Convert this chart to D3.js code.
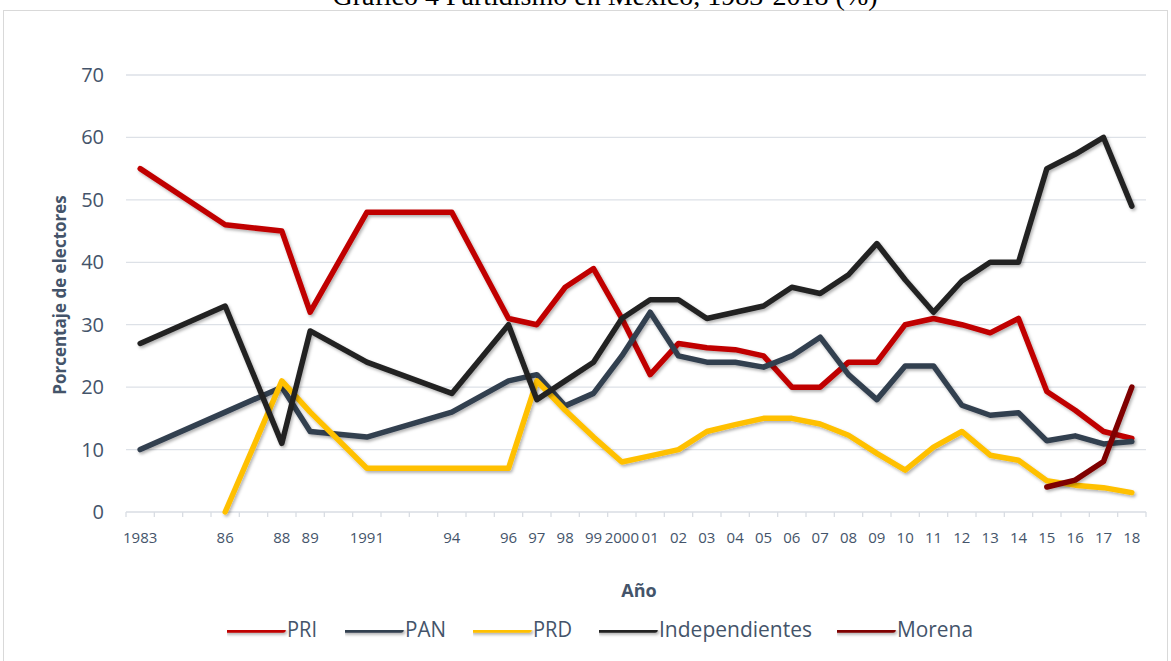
<!DOCTYPE html>
<html>
<head>
<meta charset="utf-8">
<script src="https://cdn.jsdelivr.net/npm/d3@7"></script>
<style>
  body { margin: 0; background: #fff; }
  svg { display: block; }
</style>
</head>
<body>
<div id="viz"></div>
<script>
const labelYears = [1983, 1986, 1988, 1989, 1991, 1994, 1996, 1997, 1998, 1999, 2000,
  2001, 2002, 2003, 2004, 2005, 2006, 2007, 2008, 2009, 2010, 2011, 2012, 2013, 2014,
  2015, 2016, 2017, 2018];
const labelText = ['1983', '86', '88', '89', '1991', '94', '96', '97', '98', '99', '2000',
  '01', '02', '03', '04', '05', '06', '07', '08', '09', '10', '11', '12', '13', '14',
  '15', '16', '17', '18'];

// survey years with data
const obsYears = [1983, 1986, 1988, 1989, 1991, 1994, 1996, 1997, 1998, 1999, 2000,
  2001, 2002, 2003, 2004, 2005, 2006, 2007, 2008, 2009, 2010, 2011, 2012, 2013, 2014,
  2015, 2016, 2017, 2018];
const pri = [55, 46, 45, 32, 48, 48, 31, 30, 36, 39, 31, 22, 27, 26.3, 26, 25, 20, 20, 24, 24,
  30, 31, 30, 28.7, 31, 19.3, 16.3, 12.9, 11.8];
const pan = [10, 16, 20, 12.9, 12, 16, 21, 22, 17, 19, 25, 32, 25, 24, 24, 23.2, 25, 28, 22, 18,
  23.4, 23.4, 17.1, 15.5, 15.9, 11.4, 12.2, 10.9, 11.3];
const prd = [null, 0, 21, 16, 7, 7, 7, 21, 16.3, 12, 8, 9, 10, 12.9, 14, 15, 15, 14.1, 12.3, 9.4,
  6.7, 10.4, 12.9, 9.1, 8.3, 5, 4.3, 3.9, 3.1];
const indep = [27, 33, 11, 29, 24, 19, 30, 18, 21, 24, 31, 34, 34, 31, 32, 33, 36, 35, 38, 43,
  37.2, 32, 37, 40, 40, 55, 57.3, 60, 49];
const morena = [null, null, null, null, null, null, null, null, null, null, null, null, null,
  null, null, null, null, null, null, null, null, null, null, null, null, 4, 5.1, 8.1, 20];

const seriesNames = ['PRI', 'PAN', 'PRD', 'Independientes', 'Morena'];
const seriesValues = [pri, pan, prd, indep, morena];
const colors = ['#c00000', '#333f50', '#ffc000', '#222222', '#7f0000'];

const yTicks = [0, 10, 20, 30, 40, 50, 60, 70];

const W = 1171, H = 661;
const svg = d3.select('#viz').append('svg')
  .attr('width', W).attr('height', H);

const defs = svg.append('defs');
defs.append('filter').attr('id', 'shadow')
  .attr('filterUnits', 'userSpaceOnUse')
  .attr('x', 0).attr('y', 0).attr('width', W).attr('height', H)
  .append('feDropShadow')
  .attr('dx', 1.5).attr('dy', 2).attr('stdDeviation', 1.5)
  .attr('flood-color', '#000').attr('flood-opacity', 0.3);

// chart border
svg.append('rect')
  .attr('x', 3.5).attr('y', 10.5).attr('width', 1164).attr('height', 660)
  .attr('fill', 'none').attr('stroke', '#d9d9d9');

// title (cut off at the top in the source)
svg.append('text')
  .attr('x', 605).attr('y', 5)
  .attr('text-anchor', 'middle')
  .attr('font-family', 'Liberation Serif, serif')
  .attr('font-size', 28)
  .attr('fill', '#000')
  .text('Gráfico 4 Partidismo en México, 1983-2018 (%)');

const x = d3.scaleLinear().domain([1982.5, 2018.5]).range([126, 1146]);
const y = d3.scaleLinear().domain([0, 70]).range([512, 75]);

// gridlines
svg.append('g')
  .selectAll('line')
  .data(yTicks.filter(d => d > 0))
  .join('line')
  .attr('x1', x(1982.5)).attr('x2', x(2018.5))
  .attr('y1', d => y(d)).attr('y2', d => y(d))
  .attr('stroke', '#dde1e7').attr('stroke-width', 1.3);

// y labels
svg.append('g')
  .selectAll('text')
  .data(yTicks)
  .join('text')
  .attr('x', 104).attr('y', d => y(d) + 7)
  .attr('text-anchor', 'end')
  .attr('font-family', 'Open Sans, sans-serif')
  .attr('font-size', 20)
  .attr('fill', '#44546a')
  .text(d => d);

// x axis
const xAxis = svg.append('g').attr('transform', `translate(0,${y(0)})`);
xAxis.append('line')
  .attr('x1', x(1982.5)).attr('x2', x(2018.5))
  .attr('stroke', '#d9dde3').attr('stroke-width', 1.3);
xAxis.selectAll('.tk')
  .data(d3.range(1982.5, 2019, 1))
  .join('line')
  .attr('class', 'tk')
  .attr('x1', d => x(d)).attr('x2', d => x(d))
  .attr('y1', 0).attr('y2', 5)
  .attr('stroke', '#d9dde3').attr('stroke-width', 1.3);
xAxis.selectAll('text')
  .data(labelYears)
  .join('text')
  .attr('x', d => x(d)).attr('y', 31)
  .attr('text-anchor', 'middle')
  .attr('font-family', 'Open Sans, sans-serif')
  .attr('font-size', 15)
  .attr('fill', '#44546a')
  .text((d, i) => labelText[i]);

// axis titles
svg.append('text')
  .attr('transform', 'translate(66,295) rotate(-90)')
  .attr('text-anchor', 'middle')
  .attr('font-family', 'Open Sans, sans-serif')
  .attr('font-weight', 'bold')
  .attr('font-size', 17)
  .attr('fill', '#44546a')
  .text('Porcentaje de electores');

svg.append('text')
  .attr('x', 639).attr('y', 597)
  .attr('text-anchor', 'middle')
  .attr('font-family', 'Open Sans, sans-serif')
  .attr('font-weight', 'bold')
  .attr('font-size', 18)
  .attr('fill', '#44546a')
  .text('Año');

// lines
const line = d3.line()
  .defined(d => d[1] != null)
  .x(d => x(d[0]))
  .y(d => y(d[1]));

svg.append('g')
  .selectAll('path')
  .data(seriesValues.map(vals => obsYears.map((yr, i) => [yr, vals[i]])))
  .join('path')
  .attr('fill', 'none')
  .attr('stroke', (d, i) => colors[i])
  .attr('stroke-width', 5.5)
  .attr('stroke-linecap', 'round')
  .attr('stroke-linejoin', 'round')
  .attr('filter', 'url(#shadow)')
  .attr('d', line);

// legend
const legendX = [227, 345, 473, 599, 837];
const legendW = [30, 41, 39, 153, 76];
const lg = svg.append('g').selectAll('g')
  .data(seriesNames)
  .join('g')
  .attr('transform', (d, i) => `translate(${legendX[i]},630)`);
lg.append('line')
  .attr('x1', 0).attr('x2', 56)
  .attr('stroke', (d, i) => colors[i])
  .attr('stroke-width', 5.5)
  .attr('stroke-linecap', 'round')
  .attr('filter', 'url(#shadow)');
lg.append('text')
  .attr('x', 60).attr('y', 7)
  .attr('font-family', 'Open Sans, sans-serif')
  .attr('font-size', 21)
  .attr('fill', '#44546a')
  .attr('textLength', (d, i) => legendW[i])
  .attr('lengthAdjust', 'spacingAndGlyphs')
  .text(d => d);
</script>
</body>
</html>
